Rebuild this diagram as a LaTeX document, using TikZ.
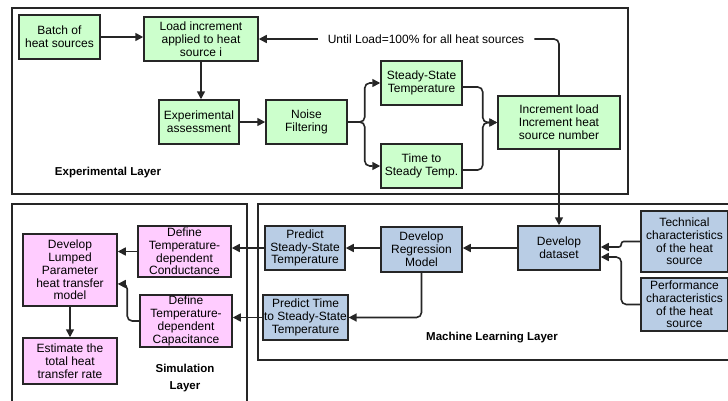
\documentclass[tikz,border=0pt]{standalone}
\usepackage{fontspec}
\setmainfont{Liberation Sans}
\usetikzlibrary{arrows.meta,positioning}
\definecolor{expgreen}{HTML}{CCFFCC}
\definecolor{mlblue}{HTML}{B9CDE5}
\definecolor{simpink}{HTML}{FFCCFF}
\definecolor{edgegray}{HTML}{262626}
\tikzset{
  box/.style    ={draw=edgegray, line width=1.5pt, align=center, inner sep=1pt,
                  font=\fontsize{12}{12.8}\selectfont},
  expbox/.style ={box, fill=expgreen},
  mlbox/.style  ={box, fill=mlblue},
  simbox/.style ={box, fill=simpink},
  sz/.style 2 args={minimum width=#1pt, minimum height=#2pt},
  layer/.style  ={draw=edgegray, line width=1.5pt},
  lyrlbl/.style ={font=\fontsize{11.5}{17}\selectfont\bfseries, align=center},
  flow/.style   ={-{Triangle[length=8pt,width=8pt]}, line width=1.6pt,
                  draw=edgegray, rounded corners=5pt},
  link/.style   ={line width=1.6pt, draw=edgegray, rounded corners=5pt},
}

\begin{document}
\begin{tikzpicture}[x=1pt, y=-1pt]
  \useasboundingbox (0,0) rectangle (728,400);

  % layer frames
  \draw[layer] (12,8) rectangle (628,194);
  \draw[layer] (12,204) rectangle (247,410);
  \draw[layer] (258,204) rectangle (740,360);

  % experimental layer
  \node[expbox, sz={81}{44}]  (batch)   at (59.5,37)  {Batch of\\heat sources};
  \node[expbox, sz={114}{44}] (loadinc) at (201,39)   {Load increment\\applied to heat\\source i};
  \node[expbox, sz={80}{44}]  (expass)  at (199,122)  {Experimental\\assessment};
  \node[expbox, sz={81}{44}]  (noise)   at (306.5,122) {Noise\\Filtering};
  \node[expbox, sz={81}{44}]  (sst)     at (421.5,83) {Steady-State\\Temperature};
  \node[expbox, sz={81}{44}]  (tts)     at (421.5,166) {Time to\\Steady Temp.};
  \node[expbox, sz={122}{53}] (incr)    at (559,122.5) {Increment load\\Increment heat\\source number};
  \node[font=\fontsize{12}{12.8}\selectfont, inner xsep=10pt] (until) at (426,39)
    {Until Load=100\% for all heat sources};
  \node[lyrlbl] (explbl) at (108,173) {Experimental Layer};

  \draw[flow] (batch.east) -- (loadinc.west |- batch.east);
  \draw[flow] (loadinc.south) -- (loadinc.south |- expass.north);
  \draw[flow] (expass) -- (noise);
  \draw[flow] (noise.east) -- ++(17,0) |- (sst.west);
  \draw[flow] (noise.east) -- ++(17,0) |- (tts.west);
  \draw[flow] ([yshift=-4pt]sst.east) -- ++(20,0) |- (incr.west);
  \draw[flow] ([yshift=-4pt]tts.east) -- ++(20,0) |- (incr.west);
  \draw[link] (incr.north) |- (until.east);
  \draw[flow] (until.west) -- (loadinc.east |- until.west);

  % machine learning layer
  \node[mlbox, sz={82}{44}] (dataset) at (559,248)     {Develop\\dataset};
  \node[mlbox, sz={81}{45}] (regr)    at (421.5,249.5) {Develop\\Regression\\Model};
  \node[mlbox, sz={87}{61}] (tech)    at (684.5,241.5) {Technical\\characteristics\\of the heat\\source};
  \node[mlbox, sz={87}{53}] (perf)    at (684.5,304.5) {Performance\\characteristics\\of the heat\\source};
  \node[mlbox, sz={80}{44}] (predss)  at (305,248)     {Predict\\Steady-State\\Temperature};
  \node[mlbox, sz={80}{45}] (predt)   at (305.5,317.5) {Predict Time\\to Steady-State\\Temperature};
  \node[lyrlbl] (mllbl) at (492,338) {Machine Learning Layer};

  \draw[flow] (incr.south) -- (dataset.north);
  \draw[flow, rounded corners=2.5pt] (tech.west) -- ++(-19,0) |- ([yshift=1pt]dataset.east);
  \draw[flow] (perf.west) -- ++(-19,0) |- ([yshift=-9pt]dataset.east);
  \draw[flow] (dataset.west) -- (regr.east |- dataset.west);
  \draw[flow] (regr.west |- predss.east) -- (predss.east);
  \draw[flow] (regr.south) |- (predt.east);

  % simulation layer
  \node[simbox, sz={93}{51}] (defcond) at (184.5,251.5) {Define\\Temperature-\\dependent\\Conductance};
  \node[simbox, sz={92}{52}] (defcap)  at (186,321)     {Define\\Temperature-\\dependent\\Capacitance};
  \node[simbox, sz={94}{72}] (lumped)  at (70,270)      {Develop\\Lumped\\Parameter\\heat transfer\\model};
  \node[simbox, sz={94}{46}] (estim)   at (70,361)      {Estimate the\\total heat\\transfer rate};
  \node[lyrlbl] (simlbl) at (185,378) {Simulation\\Layer};

  \draw[flow] (predss.west) -- (defcond.east |- predss.west);
  \draw[flow] (predt.west) -- (defcap.east |- predt.west);
  \draw[flow] (defcond.west) -- (lumped.east |- defcond.west);
  \draw[flow] (defcap.west) -- ++(-12,0) |- ([yshift=-14pt]lumped.east);
  \draw[flow] (lumped.south) -- (estim.north);
\end{tikzpicture}
\end{document}
